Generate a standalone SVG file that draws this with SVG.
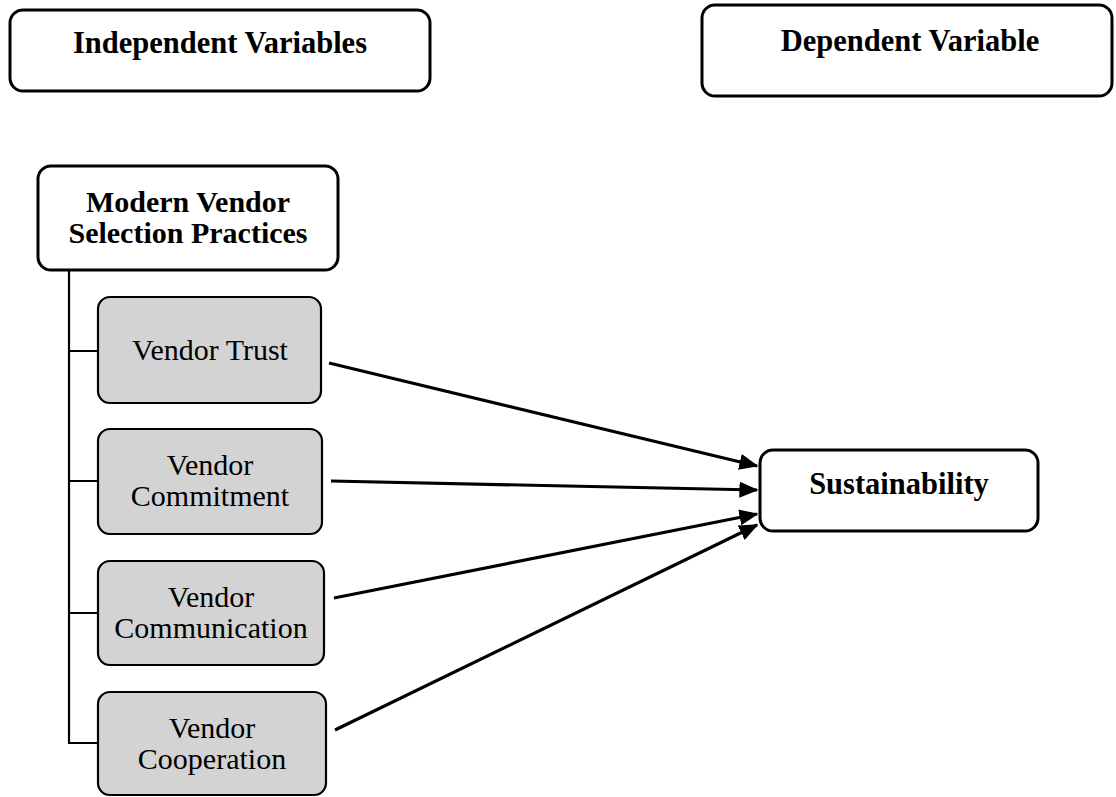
<svg xmlns="http://www.w3.org/2000/svg" width="1116" height="797" viewBox="0 0 1116 797">
<defs>
<style>
.hdr{fill:#fff;stroke:#000;stroke-width:3}
.sub{fill:#d3d3d3;stroke:#000;stroke-width:2.2}
.tb{font-family:"Liberation Serif","Times New Roman",serif;font-weight:bold;font-size:30.5px;fill:#000;text-anchor:middle}
.tr{font-family:"Liberation Serif","Times New Roman",serif;font-size:30px;fill:#000;text-anchor:middle}
.ln{stroke:#000;stroke-width:2.2;fill:none}
.ar{stroke:#000;stroke-width:3.2;fill:none;marker-end:url(#ah)}
</style>
<marker id="ah" markerWidth="6" markerHeight="5" refX="5.5" refY="2.5" orient="auto" markerUnits="strokeWidth">
<path d="M0,0 L6,2.5 L0,5 Z" fill="#000"/>
</marker>
</defs>
<rect width="1116" height="797" fill="#fff"/>
<g id="independent">
<rect class="hdr" x="10" y="10" width="420" height="81" rx="13"/>
<text class="tb" x="220" y="53">Independent Variables</text>
</g>
<g id="dependent">
<rect class="hdr" x="702" y="5" width="410" height="91" rx="13"/>
<text class="tb" x="910" y="51">Dependent Variable</text>
</g>
<g id="connectors">
<path class="ln" d="M69,270 V743 H98 M69,351 H98 M69,481 H98 M69,613 H98"/>
<line class="ar" x1="329" y1="363" x2="757" y2="466"/>
<line class="ar" x1="331" y1="481" x2="757" y2="490"/>
<line class="ar" x1="334" y1="598" x2="757" y2="514"/>
<line class="ar" x1="335" y1="730" x2="757" y2="525"/>
</g>
<g id="modern">
<rect class="hdr" x="38" y="166" width="300" height="104" rx="13"/>
<text class="tb" x="188" y="212" style="font-size:30px">Modern Vendor</text>
<text class="tb" x="188" y="243" style="font-size:30px">Selection Practices</text>
</g>
<g id="trust">
<rect class="sub" x="98" y="297" width="223" height="106" rx="12"/>
<text class="tr" x="210" y="360">Vendor Trust</text>
</g>
<g id="commitment">
<rect class="sub" x="98" y="429" width="224" height="105" rx="12"/>
<text class="tr" x="210" y="475">Vendor</text>
<text class="tr" x="210" y="506">Commitment</text>
</g>
<g id="communication">
<rect class="sub" x="98" y="561" width="226" height="104" rx="12"/>
<text class="tr" x="211" y="607">Vendor</text>
<text class="tr" x="211" y="638">Communication</text>
</g>
<g id="cooperation">
<rect class="sub" x="98" y="692" width="228" height="103" rx="12"/>
<text class="tr" x="212" y="738">Vendor</text>
<text class="tr" x="212" y="769">Cooperation</text>
</g>
<g id="sustainability">
<rect class="hdr" x="760" y="450" width="278" height="81" rx="13"/>
<text class="tb" x="899" y="494">Sustainability</text>
</g>
</svg>
